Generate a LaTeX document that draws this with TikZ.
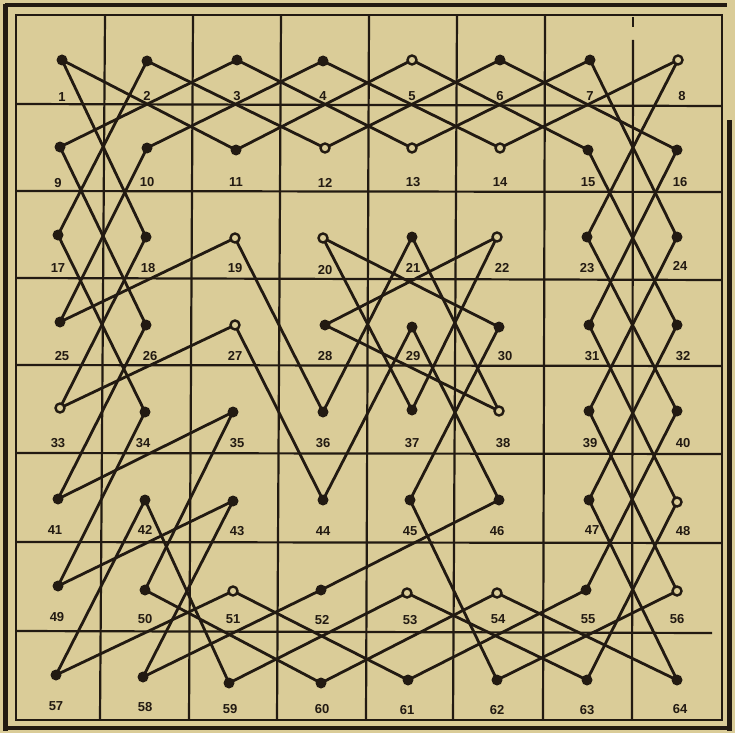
\documentclass[tikz,border=0pt]{standalone}
\usepackage{fontspec}
\setmainfont{Liberation Sans}
\definecolor{paper}{RGB}{218,204,152}
\definecolor{ink}{RGB}{34,26,18}
\pgfdeclarelayer{bg}
\pgfsetlayers{bg,main}
\begin{document}
\begin{tikzpicture}[x=1pt,y=-1pt,
  gridline/.style={ink,line width=2.2pt},
  frameline/.style={ink,line width=2.2pt},
  outerline/.style={ink,line width=5pt},
  tourline/.style={ink,line width=2.8pt,line cap=round},
  fdot/.style={circle,fill=ink,inner sep=0pt,minimum size=11pt},
  hdot/.style={circle,draw=ink,fill=paper,line width=2.4pt,inner sep=0pt,minimum size=9pt},
  lab/.style={font=\fontsize{13}{13}\selectfont\bfseries,text=ink,inner sep=0pt}]
\useasboundingbox (0,0) rectangle (735,733);
% dots
\foreach \n/\x/\y/\s in {
 1/62/60/fdot, 2/147/61/fdot, 3/237/60/fdot, 4/323/61/fdot, 5/412/60/hdot, 6/500/60/fdot, 7/590/60/fdot, 8/678/60/hdot,
 9/60/147/fdot, 10/147/148/fdot, 11/236/150/fdot, 12/325/148/hdot, 13/412/148/hdot, 14/500/148/hdot, 15/588/150/fdot, 16/677/150/fdot,
 17/58/235/fdot, 18/146/237/fdot, 19/235/238/hdot, 20/323/238/hdot, 21/412/237/fdot, 22/497/237/hdot, 23/587/237/fdot, 24/677/237/fdot,
 25/60/322/fdot, 26/146/325/fdot, 27/235/325/hdot, 28/325/325/fdot, 29/412/327/fdot, 30/499/327/fdot, 31/589/325/fdot, 32/677/325/fdot,
 33/60/408/hdot, 34/145/412/fdot, 35/233/412/fdot, 36/323/412/fdot, 37/412/410/fdot, 38/499/411/hdot, 39/589/411/fdot, 40/677/411/fdot,
 41/58/499/fdot, 42/145/500/fdot, 43/233/501/fdot, 44/323/500/fdot, 45/410/500/fdot, 46/499/500/fdot, 47/589/500/fdot, 48/677/502/hdot,
 49/58/586/fdot, 50/145/590/fdot, 51/233/591/hdot, 52/321/590/fdot, 53/407/593/hdot, 54/497/593/hdot, 55/586/590/fdot, 56/677/591/hdot,
 57/56/675/fdot, 58/143/677/fdot, 59/229/683/fdot, 60/321/683/fdot, 61/408/680/fdot, 62/497/680/fdot, 63/587/680/fdot, 64/677/680/fdot}
 { \node[\s] (d\n) at (\x,\y) {}; }
% labels
\foreach \n/\x/\y in {
 1/62/97, 2/147/96, 3/237/96, 4/323/96, 5/412/96, 6/500/96, 7/590/96, 8/682/96,
 9/58/183, 10/147/182, 11/236/182, 12/325/183, 13/413/182, 14/500/182, 15/588/182, 16/680/182,
 17/58/268, 18/148/268, 19/235/268, 20/325/270, 21/413/268, 22/502/268, 23/587/268, 24/680/266,
 25/62/356, 26/150/356, 27/235/356, 28/325/356, 29/413/356, 30/505/356, 31/592/356, 32/683/356,
 33/58/443, 34/143/443, 35/237/443, 36/323/443, 37/412/443, 38/503/443, 39/590/443, 40/683/443,
 41/55/530, 42/145/530, 43/237/531, 44/323/531, 45/410/531, 46/497/531, 47/592/530, 48/683/531,
 49/57/617, 50/145/619, 51/233/619, 52/322/620, 53/410/620, 54/498/619, 55/588/619, 56/677/619,
 57/56/706, 58/145/707, 59/230/709, 60/322/709, 61/407/710, 62/497/710, 63/587/710, 64/680/709}
 { \node[lab] (t\n) at (\x,\y) {\n}; }
\begin{pgfonlayer}{bg}
\fill[paper] (0,0) rectangle (735,733);
% outer border
\draw[outerline] (5,4) -- (5,731);
\draw[ink,line width=3.5pt] (5,5) -- (727,5);
\draw[outerline] (729,120) -- (729,731);
\draw[ink,line width=4pt] (3,728) -- (731,728);
% inner frame
\draw[frameline] (16,15) rectangle (722,720);
% grid
\foreach \a/\b in {105/100, 193/189, 281/277, 369/366, 457/453, 545/543}
 { \draw[gridline] (\a,15) -- (\b,720); }
\draw[gridline] (633,40) -- (632,720);
\draw[gridline] (633,17) -- (633,27);
\foreach \a/\b in {104/106, 191/192, 278/280, 365/366, 453/454, 542/543}
 { \draw[gridline] (16,\a) -- (722,\b); }
\draw[gridline] (16,631) -- (712,633);
% knight's tour
\foreach \a/\b in {1/11, 1/18, 2/12, 2/17, 3/9, 3/13, 4/10, 4/14, 5/11, 5/15, 6/12, 6/16,
 7/13, 7/24, 8/14, 8/23, 9/26, 10/25, 15/32, 16/31, 17/34, 18/33, 19/25, 19/36,
 20/30, 20/37, 21/36, 21/38, 22/28, 22/37, 28/38, 27/33, 27/44, 29/44, 29/46,
 34/49, 35/41, 35/50, 26/41, 42/57, 42/59, 43/49, 43/58, 57/51, 50/60, 58/52,
 52/46, 59/53, 51/61, 53/63, 54/60, 54/64, 55/61, 55/40, 56/39, 56/62, 45/62,
 45/30, 23/40, 24/39, 31/48, 32/47, 47/64, 48/63}
 { \draw[tourline] (d\a.center) -- (d\b.center); }
\end{pgfonlayer}
\end{tikzpicture}
\end{document}
